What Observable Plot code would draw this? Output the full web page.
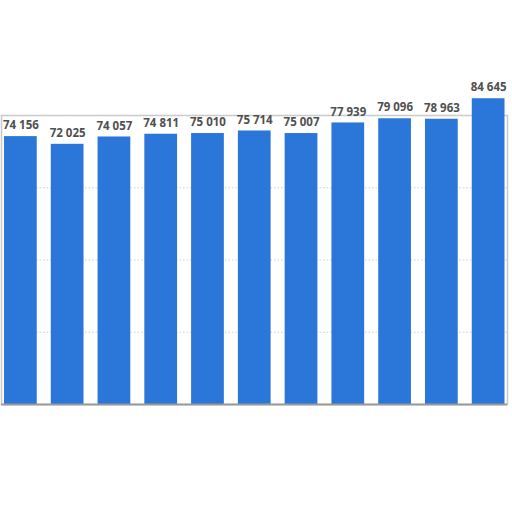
<!DOCTYPE html>
<html>
<head>
<meta charset="utf-8">
<script src="https://cdn.jsdelivr.net/npm/d3@7"></script>
<script src="https://cdn.jsdelivr.net/npm/@observablehq/plot@0.6"></script>
<style>
html,body{margin:0;padding:0;background:#fff;}
</style>
</head>
<body>
<div id="chart"></div>
<script>
const categories = ["2012","2013","2014","2015","2016","2017","2018","2019","2020","2021","2022"];
const values = [74156, 72025, 74057, 74811, 75010, 75714, 75007, 77939, 79096, 78963, 84645];
const gridTicks = [20000, 40000, 60000, 80000];

const data = categories.map((c, i) => ({category: c, value: values[i]}));
const fmt = v => d3.format(",")(v).replace(/,/g, " ");

const chart = Plot.plot({
  width: 512,
  height: 512,
  marginTop: 115,
  marginBottom: 108,
  marginLeft: 1,
  marginRight: 5,
  style: {background: "#fff", fontFamily: "'Open Sans', sans-serif"},
  x: {domain: categories, range: [4, 504.5], paddingInner: 0.3, paddingOuter: 0, round: false, axis: null},
  y: {domain: [0, 80000], axis: null},
  marks: [
    Plot.frame({stroke: "#c8c8c8", strokeWidth: 1.5}),
    Plot.ruleY(gridTicks, {stroke: "#cfcfcf", strokeDasharray: "1.5,2"}),
    Plot.barY(data, {x: "category", y: "value", fill: "#2b76d9"}),
    Plot.ruleY([0], {stroke: "#9a9a9a", strokeWidth: 2}),
    Plot.text(data, {x: "category", y: "value", text: d => fmt(d.value), dy: -11, fill: "#505050", fontSize: 11.5, fontWeight: "bold"})
  ]
});
document.getElementById("chart").appendChild(chart);
</script>
</body>
</html>
